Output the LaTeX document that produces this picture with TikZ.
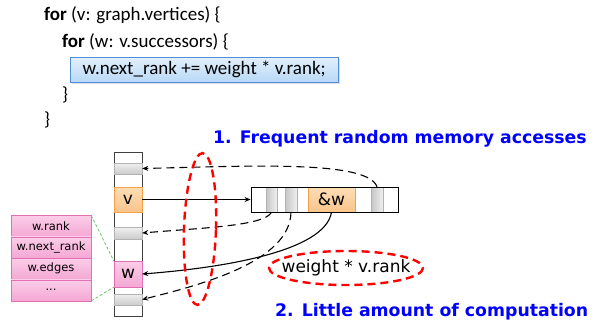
\documentclass[tikz,border=0pt]{standalone}
\usepackage{fontspec}
\setmainfont{Carlito}
\newfontfamily\verdana{DejaVu Sans}
\usetikzlibrary{arrows.meta,shadows,positioning}

\definecolor{boxblue}{HTML}{4F8FD8}
\definecolor{boxtop}{HTML}{E4F0FC}
\definecolor{boxbot}{HTML}{B8D8F6}
\definecolor{orline}{HTML}{F7A04A}
\definecolor{ortop}{HTML}{FDDDB6}
\definecolor{orbot}{HTML}{F9C58C}
\definecolor{pkline}{HTML}{E36FB4}
\definecolor{pktop}{HTML}{FBCDE8}
\definecolor{pkbot}{HTML}{F4A8D4}
\definecolor{dotgreen}{HTML}{6CC46C}

\tikzset{
  code/.style={font=\fontsize{19}{23}\selectfont, inner sep=0pt, anchor=west},
  codebox/.style={draw=boxblue, top color=boxtop, bottom color=boxbot, minimum width=268pt,
    minimum height=25pt, inner sep=0pt, drop shadow={opacity=0.25, shadow xshift=1.5pt, shadow yshift=-1.5pt},
    font=\fontsize{19}{23}\selectfont},
  slot/.style={draw=gray!60, top color=gray!12, bottom color=gray!40, minimum width=28pt, inner sep=0pt},
  strip/.style={draw=gray!60, left color=gray!45, right color=gray!12, minimum height=25pt, inner sep=0pt},
  vbox/.style={draw=orline, top color=ortop, bottom color=orbot, inner sep=0pt, font=\verdana\fontsize{17}{20}\selectfont},
  wbox/.style={draw=pkline, top color=pktop, bottom color=pkbot, inner sep=0pt, font=\verdana\fontsize{17}{20}\selectfont},
  field/.style={draw=pkline, top color=pktop, bottom color=pkbot, minimum width=80pt, minimum height=21pt,
    inner sep=0pt, font=\verdana\fontsize{11.5}{13}\selectfont},
  redring/.style={draw=red, line width=2.4pt, dash pattern=on 8pt off 5pt},
  note/.style={text=blue, font=\verdana\bfseries\fontsize{17.3}{20}\selectfont, inner sep=0pt, anchor=west},
  link/.style={line width=1.1pt, -{Stealth[length=6pt,width=5pt]}},
  dlink/.style={link, dash pattern=on 8pt off 5pt}
}

\begin{document}
\begin{tikzpicture}[x=1pt,y=-1pt]
  \useasboundingbox (0,0) rectangle (595,325);

  % the loop
  \node[code] (outer) at (44,15) {\textbf{for} (v: graph.vertices) \{};
  \node[code] (inner) at (62,42) {\textbf{for} (w: v.successors) \{};
  \node[codebox, anchor=north west] (body) at (70,57) {w.next\_rank += weight * v.rank;};
  \node[code] (close1) at (62,95) {\}};
  \node[code] (close2) at (44,120) {\}};

  % vertex array
  \node[draw=black!75, line width=0.9pt, fill=white, minimum width=28pt, minimum height=164pt, inner sep=0pt] (verts) at (128,234) {};
  \node[slot, minimum height=11pt] (g1) at (128,168.5) {};
  \node[vbox, minimum width=28pt, minimum height=25pt] (v) at (128,199.5) {v};
  \node[slot, minimum height=12pt] (g2) at (128,233) {};
  \node[wbox, minimum width=28pt, minimum height=26pt] (w) at (128,274) {w};
  \node[slot, minimum height=11pt] (g3) at (128,299.5) {};

  % edge array
  \node[strip, minimum width=11pt] (e1) at (271.5,199.5) {};
  \node[strip, minimum width=12pt] (e2) at (291,199.5) {};
  \node[vbox, minimum width=47pt, minimum height=25pt] (ew) at (331.5,199.5) {\&w};
  \node[strip, minimum width=12pt] (e3) at (377,199.5) {};
  \node[draw=black, line width=0.9pt, minimum width=147pt, minimum height=25pt, inner sep=0pt] (edges) at (324.5,199.5) {};

  % fields of w
  \node[field] (f1) at (51,226) {w.rank};
  \node[field, below=0pt of f1] (f2) {w.next\_rank};
  \node[field, below=0pt of f2] (f3) {w.edges};
  \node[field, below=0pt of f3] (f4) {...};
  \draw[dotgreen, line width=0.8pt, densely dashed] (f1.north east) -- (w.north west);
  \draw[dotgreen, line width=0.8pt, densely dashed] (f4.south east) -- (w.south west);

  % accesses
  \draw[link] (v.east) -- (edges.west);
  \draw[dlink] (e3.north) .. controls (368,160) and (250,166) .. (g1.east);
  \draw[dlink] (e1.south) .. controls (265,226) and (200,228) .. (g2.east);
  \draw[dlink] (e2.south) .. controls (290,262) and (200,285) .. (g3.east);
  \draw[link] (ew.south) .. controls (325,252) and (220,268) .. (w.east);

  % remarks
  \draw[redring, rotate around={-2:(200,229)}] (200,229) ellipse [x radius=16, y radius=76];
  \node[inner sep=0pt, font=\verdana\fontsize{17}{20}\selectfont] (wvr) at (346,268) {weight * v.rank};
  \draw[redring] (wvr.center) ellipse [x radius=77, y radius=17];
  \node[note] (hint1) at (213,139) {1. Frequent random memory accesses};
  \node[note] (hint2) at (275,312) {2. Little amount of computation};

\end{tikzpicture}
\end{document}
